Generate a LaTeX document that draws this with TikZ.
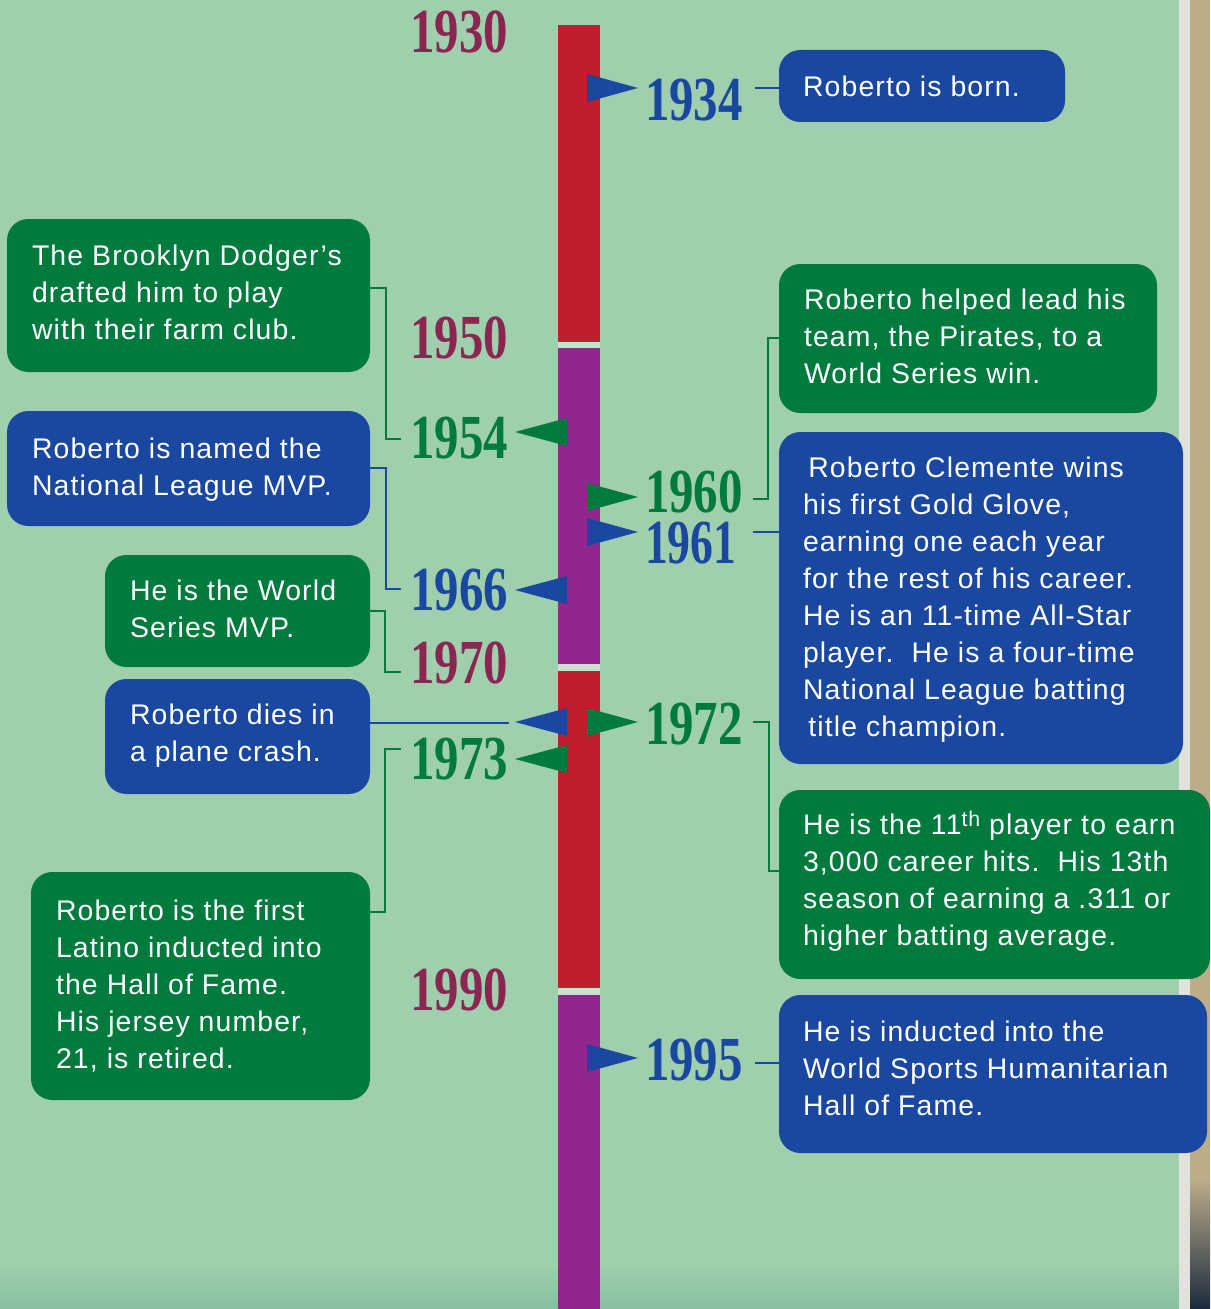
\documentclass[tikz,border=0pt]{standalone}
\usepackage{fontspec}
\usepackage{graphicx}
\setmainfont{Liberation Sans}
\newfontfamily\boxfont{Liberation Sans}[LetterSpace=4]
\newfontfamily\yrfont{Liberation Serif}
\definecolor{bgc}{RGB}{159,207,172}
\definecolor{gapc}{RGB}{200,228,208}
\definecolor{barred}{RGB}{190,30,45}
\definecolor{barpur}{RGB}{146,38,143}
\definecolor{evblue}{RGB}{26,71,160}
\definecolor{evgreen}{RGB}{0,122,61}
\definecolor{yrmaroon}{RGB}{139,38,83}
\definecolor{stripgray}{RGB}{226,226,220}
\definecolor{striptan}{RGB}{188,172,136}
\definecolor{stripdark}{RGB}{28,42,62}
\tikzset{
  evbox/.style={rounded corners=16pt, inner sep=0pt, outer sep=0pt},
  bbox/.style={evbox, fill=evblue},
  gbox/.style={evbox, fill=evgreen},
  evtxt/.style={inner sep=0pt, outer sep=0pt, text=white, font=\boxfont\fontsize{21.3pt}{27.75pt}\selectfont},
  yr/.style={inner sep=0pt, outer sep=0pt, font=\yrfont\bfseries\fontsize{47pt}{47pt}\selectfont},
  bline/.style={draw=evblue, line width=1.5pt},
  gline/.style={draw=evgreen, line width=1.5pt},
}
\newcommand\evbox[6]{\node[#1, minimum width={(#4-#2)*0.75pt}, minimum height={(#5-#3)*0.75pt}] (#6) at ({(#2+#4)/2},{(#3+#5)/2}) {};}
\newcommand\evtext[3]{\node[evtxt, anchor=base west] (#1) at (#2) {\parbox[t]{340pt}{#3}};}
\newcommand\yrlab[6]{\node[yr, text=#1, anchor=#2] (#3) at (#4) {\scalebox{#6}[1]{#5}};}
\newcommand\rflag[2]{\fill[#1] (587,#2-14) -- (638,#2) -- (587,#2+14) -- cycle;}
\newcommand\lflag[2]{\fill[#1] (567,#2-14) -- (515,#2) -- (567,#2+14) -- cycle;}
\begin{document}
\begin{tikzpicture}[x=0.75pt,y=-0.75pt]
\useasboundingbox (0,0) rectangle (1210,1309);
% background
\fill[bgc] (0,0) rectangle (1210,1309);
\shade[top color=bgc, bottom color={rgb,255:red,135;green,190;blue,160}] (0,1265) rectangle (1179,1309);
\fill[stripgray] (1179,0) rectangle (1190,1309);
\fill[striptan] (1190,0) rectangle (1210,1180);
\shade[top color=striptan, bottom color=stripdark] (1190,1180) rectangle (1210,1309);
% timeline bar
\fill[gapc] (558,342) rectangle (600,995);
\fill[barred] (558,25) rectangle (600,342);
\fill[barpur] (558,348) rectangle (600,664);
\fill[barred] (558,671) rectangle (600,988);
\fill[barpur] (558,995) rectangle (600,1309);
% flags
\rflag{evblue}{88}
\rflag{evgreen}{497}
\rflag{evblue}{532}
\rflag{evgreen}{722}
\rflag{evblue}{1058}
\lflag{evgreen}{432}
\lflag{evblue}{590}
\lflag{evblue}{722}
\lflag{evgreen}{759}
% years
\yrlab{yrmaroon}{east}{y1930}{508,32}{1930}{0.78}
\yrlab{yrmaroon}{east}{y1950}{508,338}{1950}{0.78}
\yrlab{evgreen}{east}{y1954}{508,438}{1954}{0.78}
\yrlab{evblue}{east}{y1966}{508,590}{1966}{0.78}
\yrlab{yrmaroon}{east}{y1970}{508,663}{1970}{0.78}
\yrlab{evgreen}{east}{y1973}{508,759}{1973}{0.78}
\yrlab{yrmaroon}{east}{y1990}{508,990}{1990}{0.78}
\yrlab{evblue}{west}{y1934}{645,100}{1934}{0.78}
\yrlab{evgreen}{west}{y1960}{645,492}{1960}{0.78}
\yrlab{evblue}{west}{y1961}{645,543}{1961}{0.73}
\yrlab{evgreen}{west}{y1972}{645,724}{1972}{0.78}
\yrlab{evblue}{west}{y1995}{645,1060}{1995}{0.78}
% boxes
\evbox{gbox}{7}{219}{370}{372}{brook}
\evbox{bbox}{7}{411}{370}{526}{mvp}
\evbox{gbox}{105}{555}{370}{667}{wsmvp}
\evbox{bbox}{105}{679}{370}{794}{dies}
\evbox{gbox}{31}{872}{370}{1100}{hof}
\evbox{bbox}{779}{50}{1065}{122}{born}
\evbox{gbox}{779}{264}{1157}{413}{pirates}
\evbox{bbox}{779}{432}{1183}{764}{gold}
\evbox{gbox}{779}{790}{1210}{979}{hits}
\evbox{bbox}{779}{995}{1207}{1153}{whof}
% texts
\evtext{tborn}{803,97}{Roberto is born.}
\evtext{tbrook}{32,265}{The Brooklyn Dodger’s\\drafted him to play\\with their farm club.}
\evtext{tmvp}{32,458}{Roberto is named the\\National League MVP.}
\evtext{twsmvp}{130,600}{He is the World\\Series MVP.}
\evtext{tdies}{130,724}{Roberto dies in\\a plane crash.}
\evtext{thof}{56,920}{Roberto is the first\\Latino inducted into\\the Hall of Fame.\\His jersey number,\\21, is retired.}
\evtext{tpirates}{804,309}{Roberto helped lead his\\team, the Pirates, to a\\World Series win.}
\evtext{tgold}{803,477}{\hspace*{4pt}Roberto Clemente wins\\his first Gold Glove,\\earning one each year\\for the rest of his career.\\He is an 11-time All-Star\\player.\ \ He is a four-time\\National League batting\\\hspace*{4pt}title champion.}
\evtext{thits}{803,834}{He is the 11\raisebox{6pt}{\fontsize{16pt}{16pt}\selectfont th} player to earn\\3,000 career hits.\ \ His 13th\\season of earning a .311 or\\higher batting average.}
\evtext{twhof}{803,1041}{He is inducted into the\\World Sports Humanitarian\\Hall of Fame.}
% connector coordinates
\coordinate (a1) at (386,288); \coordinate (a2) at (401,439);
\coordinate (b1) at (386,468); \coordinate (b2) at (401,589);
\coordinate (c1) at (385,611); \coordinate (c2) at (401,672);
\coordinate (d1) at (509,723);
\coordinate (e1) at (385,912); \coordinate (e2) at (401,749);
\coordinate (f1) at (755,88);
\coordinate (g1) at (768,338); \coordinate (g2) at (753,499);
\coordinate (h1) at (753,532);
\coordinate (i1) at (769,871); \coordinate (i2) at (753,722);
\coordinate (j1) at (755,1063);
% connectors
\draw[gline] (brook.east |- a1) -- (a1) |- (a2);
\draw[bline] (mvp.east |- b1) -- (b1) |- (b2);
\draw[gline] (wsmvp.east |- c1) -- (c1) |- (c2);
\draw[bline] (dies.east |- d1) -- (d1);
\draw[gline] (hof.east |- e1) -- (e1) |- (e2);
\draw[bline] (f1) -- (born.west |- f1);
\draw[gline] (pirates.west |- g1) -- (g1) |- (g2);
\draw[bline] (h1) -- (gold.west |- h1);
\draw[gline] (hits.west |- i1) -- (i1) |- (i2);
\draw[bline] (j1) -- (whof.west |- j1);
\end{tikzpicture}
\end{document}
